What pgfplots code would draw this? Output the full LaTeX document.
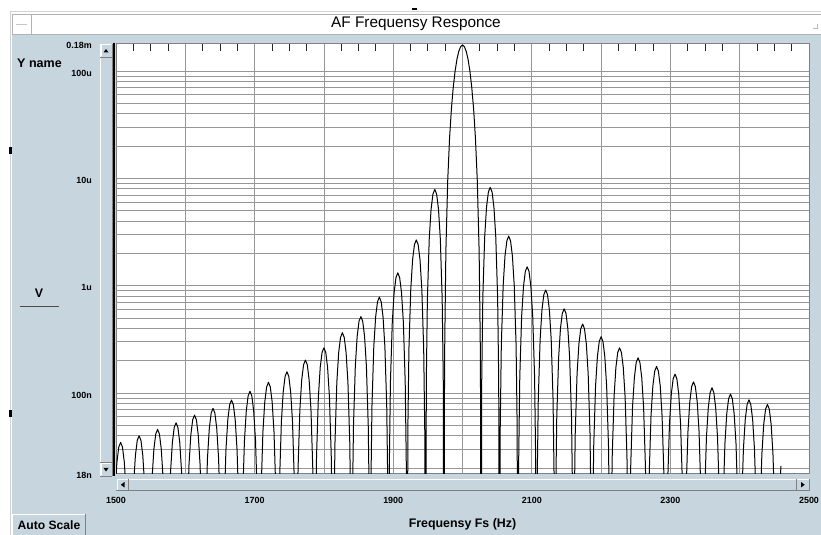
\documentclass[border=0pt]{standalone}
\usepackage{fontspec}
\setmainfont{Liberation Sans}
\usepackage{pgfplots}
\pgfplotsset{compat=1.18}
\definecolor{panel}{RGB}{199,213,222}
\definecolor{gridgray}{RGB}{150,150,150}
\definecolor{edge}{RGB}{128,128,128}
\newcommand{\lab}{\fontsize{6.7}{8}\selectfont\bfseries}
\newcommand{\biglab}{\fontsize{9.3}{11}\selectfont\bfseries}

\begin{document}
\begin{tikzpicture}
\path[use as bounding box] (0,0) rectangle (615.75pt,401.25pt);
% window frame, pixel coordinates from the top left
\begin{scope}[x=0.75pt,y=-0.75pt,shift={(0pt,401.25pt)}]
  \fill[white] (0,0) rectangle (821,535);
  \draw[gray!35] (10.5,11) -- (10.5,535);
  \draw[gray!35] (10.5,11.5) -- (821,11.5);
  \fill[panel] (12,35) rectangle (821,535);
  \draw[gray!60,fill=white] (12,14) rectangle (821,34);
  \draw[gray!60] (31.5,14) -- (31.5,34);
  \draw[gray!45] (16,24) -- (27,24);
  \draw[gray!55] (813,28) -- (817,28) -- (817,24);
  \node at (416,24) {\fontsize{11.5}{13}\selectfont AF Frequensy Responce};
  \fill[black] (412,8.5) rectangle (417,10.5);
  \fill[black] (9,147) rectangle (11.5,154);
  \fill[black] (9,410) rectangle (11.5,417);
\end{scope}

\begin{axis}[
  at={(87pt,46.5pt)}, anchor=south west,
  scale only axis, width=519.75pt, height=322pt,
  xmin=1500, xmax=2500,
  ymode=log, ymin=1.8e-8, ymax=1.8e-4,
  axis background/.style={fill=white},
  axis line style={draw=edge, line width=0.75pt},
  xtick={1500,1600,...,2500},
  xticklabels={1500,,1700,,1900,,2100,,2300,,2500},
  minor x tick num=3,
  xtick pos=right, xticklabel pos=left,
  ytick pos=left,
  yminorticks=false,
  ytick={1.8e-8,1e-7,1e-6,1e-5,1e-4,1.8e-4},
  yticklabels={18n,100n,1u,10u,100u,0.18m},
  extra y ticks={2e-8,3e-8,4e-8,5e-8,6e-8,7e-8,8e-8,9e-8,
    2e-7,3e-7,4e-7,5e-7,6e-7,7e-7,8e-7,9e-7,
    2e-6,3e-6,4e-6,5e-6,6e-6,7e-6,8e-6,9e-6,
    2e-5,3e-5,4e-5,5e-5,6e-5,7e-5,8e-5,9e-5},
  extra y tick labels={},
  extra y tick style={grid=major},
  grid=major,
  major grid style={draw=gridgray, line width=0.6pt},
  major tick length=0pt, minor tick length=5.25pt,
  tick align=inside,
  tick style={draw=black!85, line width=0.6pt},
  xticklabel style={font=\lab, anchor=center, inner sep=0pt, yshift=-20.25pt},
  yticklabel style={font=\lab, anchor=east, inner sep=0pt, xshift=-18pt, yshift=-1.5pt},
  xlabel={Frequensy Fs (Hz)},
  xlabel style={at={(axis description cs:0.5,0)}, anchor=center, yshift=-38.25pt, font=\biglab},
]
\addplot[black, line width=0.75pt, line join=round, mark=none] coordinates {
(1493.33,1e-12)(1494.40,5.45e-10)(1496.00,3.31e-9)(1498.67,1.20e-8)(1501.33,2.27e-8)(1504.00,3.14e-8)(1506.67,3.47e-8)(1509.33,3.14e-8)(1512.00,2.27e-8)(1514.67,1.20e-8)(1517.33,3.31e-9)(1518.93,5.45e-10)
(1520.00,1e-12)(1521.07,6.28e-10)(1522.67,3.82e-9)(1525.33,1.38e-8)(1528.00,2.62e-8)(1530.67,3.62e-8)(1533.33,4.00e-8)(1536.00,3.62e-8)(1538.67,2.62e-8)(1541.33,1.38e-8)(1544.00,3.82e-9)(1545.60,6.28e-10)
(1546.67,1e-12)(1547.74,7.21e-10)(1549.34,4.38e-9)(1552.00,1.59e-8)(1554.67,3.00e-8)(1557.34,4.15e-8)(1560.00,4.59e-8)(1562.67,4.15e-8)(1565.34,3.00e-8)(1568.00,1.59e-8)(1570.67,4.38e-9)(1572.27,7.21e-10)
(1573.33,1e-12)(1574.40,8.29e-10)(1576.00,5.04e-9)(1578.67,1.82e-8)(1581.33,3.46e-8)(1584.00,4.78e-8)(1586.67,5.28e-8)(1589.33,4.78e-8)(1592.00,3.46e-8)(1594.67,1.82e-8)(1597.33,5.04e-9)(1598.93,8.29e-10)
(1600.00,1e-12)(1601.07,9.78e-10)(1602.67,5.95e-9)(1605.33,2.15e-8)(1608.00,4.08e-8)(1610.67,5.64e-8)(1613.33,6.23e-8)(1616.00,5.64e-8)(1618.67,4.08e-8)(1621.33,2.15e-8)(1624.00,5.95e-9)(1625.60,9.78e-10)
(1626.67,1e-12)(1627.74,1.13e-9)(1629.34,6.88e-9)(1632.00,2.49e-8)(1634.67,4.71e-8)(1637.34,6.51e-8)(1640.00,7.20e-8)(1642.67,6.51e-8)(1645.34,4.71e-8)(1648.00,2.49e-8)(1650.67,6.88e-9)(1652.27,1.13e-9)
(1653.33,1e-12)(1654.40,1.35e-9)(1656.00,8.22e-9)(1658.67,2.97e-8)(1661.33,5.64e-8)(1664.00,7.79e-8)(1666.67,8.61e-8)(1669.33,7.79e-8)(1672.00,5.64e-8)(1674.67,2.97e-8)(1677.33,8.22e-9)(1678.93,1.35e-9)
(1680.00,1e-12)(1681.07,1.63e-9)(1682.67,9.93e-9)(1685.33,3.59e-8)(1688.00,6.81e-8)(1690.67,9.41e-8)(1693.33,1.04e-7)(1696.00,9.41e-8)(1698.67,6.81e-8)(1701.33,3.59e-8)(1704.00,9.93e-9)(1705.60,1.63e-9)
(1706.67,1e-12)(1707.74,1.98e-9)(1709.34,1.20e-8)(1712.00,4.35e-8)(1714.67,8.25e-8)(1717.34,1.14e-7)(1720.00,1.26e-7)(1722.67,1.14e-7)(1725.34,8.25e-8)(1728.00,4.35e-8)(1730.67,1.20e-8)(1732.27,1.98e-9)
(1733.33,1e-12)(1734.40,2.48e-9)(1736.00,1.51e-8)(1738.67,5.46e-8)(1741.33,1.03e-7)(1744.00,1.43e-7)(1746.67,1.58e-7)(1749.33,1.43e-7)(1752.00,1.03e-7)(1754.67,5.46e-8)(1757.33,1.51e-8)(1758.93,2.48e-9)
(1760.00,1e-12)(1761.07,3.19e-9)(1762.67,1.94e-8)(1765.33,7.01e-8)(1768.00,1.33e-7)(1770.67,1.84e-7)(1773.33,2.03e-7)(1776.00,1.84e-7)(1778.67,1.33e-7)(1781.33,7.01e-8)(1784.00,1.94e-8)(1785.60,3.19e-9)
(1786.67,1e-12)(1787.74,4.14e-9)(1789.34,2.52e-8)(1792.00,9.12e-8)(1794.67,1.73e-7)(1797.34,2.39e-7)(1800.00,2.64e-7)(1802.67,2.39e-7)(1805.34,1.73e-7)(1808.00,9.12e-8)(1810.67,2.52e-8)(1812.27,4.14e-9)
(1813.33,1e-12)(1814.40,5.73e-9)(1816.00,3.49e-8)(1818.67,1.26e-7)(1821.33,2.39e-7)(1824.00,3.30e-7)(1826.67,3.65e-7)(1829.33,3.30e-7)(1832.00,2.39e-7)(1834.67,1.26e-7)(1837.33,3.49e-8)(1838.93,5.73e-9)
(1840.00,1e-12)(1841.07,8.10e-9)(1842.67,4.93e-8)(1845.33,1.78e-7)(1848.00,3.38e-7)(1850.67,4.67e-7)(1853.33,5.16e-7)(1856.00,4.67e-7)(1858.67,3.38e-7)(1861.33,1.78e-7)(1864.00,4.93e-8)(1865.60,8.10e-9)
(1866.67,1e-12)(1867.74,1.23e-8)(1869.34,7.49e-8)(1872.00,2.71e-7)(1874.67,5.13e-7)(1877.34,7.09e-7)(1880.00,7.84e-7)(1882.67,7.09e-7)(1885.34,5.13e-7)(1888.00,2.71e-7)(1890.67,7.49e-8)(1892.27,1.23e-8)
(1893.33,1e-12)(1894.40,2.07e-8)(1896.00,1.26e-7)(1898.67,4.56e-7)(1901.33,8.64e-7)(1904.00,1.19e-6)(1906.67,1.32e-6)(1909.33,1.19e-6)(1912.00,8.64e-7)(1914.67,4.56e-7)(1917.33,1.26e-7)(1918.93,2.07e-8)
(1920.00,1e-12)(1921.07,4.19e-8)(1922.67,2.55e-7)(1925.33,9.22e-7)(1928.00,1.75e-6)(1930.67,2.42e-6)(1933.33,2.67e-6)(1936.00,2.42e-6)(1938.67,1.75e-6)(1941.33,9.22e-7)(1944.00,2.55e-7)(1945.60,4.19e-8)
(1946.67,1e-12)(1947.74,1.24e-7)(1949.34,7.54e-7)(1952.00,2.73e-6)(1954.67,5.17e-6)(1957.34,7.15e-6)(1960.00,7.90e-6)(1962.67,7.15e-6)(1965.34,5.17e-6)(1968.00,2.73e-6)(1970.67,7.54e-7)(1972.27,1.24e-7)
(1973.33,1e-12)(1973.87,7.28e-8)(1974.40,3.02e-7)(1976.00,2.09e-6)(1978.67,9.57e-6)(1981.33,2.37e-5)(1984.00,4.46e-5)(1986.67,7.09e-5)(1989.33,1.00e-4)(1992.00,1.29e-4)(1994.67,1.53e-4)(1997.33,1.69e-4)(2000.00,1.75e-4)
(2002.67,1.69e-4)(2005.33,1.53e-4)(2008.00,1.29e-4)(2010.67,1.00e-4)(2013.33,7.09e-5)(2016.00,4.46e-5)(2018.67,2.37e-5)(2021.33,9.57e-6)(2024.00,2.09e-6)(2025.60,3.02e-7)(2026.13,7.28e-8)
(2026.67,1e-12)(2027.74,1.30e-7)(2029.34,7.89e-7)(2032.00,2.85e-6)(2034.67,5.41e-6)(2037.34,7.47e-6)(2040.00,8.26e-6)(2042.67,7.47e-6)(2045.34,5.41e-6)(2048.00,2.85e-6)(2050.67,7.89e-7)(2052.27,1.30e-7)
(2053.33,1e-12)(2054.40,4.55e-8)(2056.00,2.77e-7)(2058.67,1.00e-6)(2061.33,1.90e-6)(2064.00,2.62e-6)(2066.67,2.90e-6)(2069.33,2.62e-6)(2072.00,1.90e-6)(2074.67,1.00e-6)(2077.33,2.77e-7)(2078.93,4.55e-8)
(2080.00,1e-12)(2081.07,2.36e-8)(2082.67,1.43e-7)(2085.33,5.18e-7)(2088.00,9.82e-7)(2090.67,1.36e-6)(2093.33,1.50e-6)(2096.00,1.36e-6)(2098.67,9.82e-7)(2101.33,5.18e-7)(2104.00,1.43e-7)(2105.60,2.36e-8)
(2106.67,1e-12)(2107.74,1.43e-8)(2109.34,8.71e-8)(2112.00,3.15e-7)(2114.67,5.97e-7)(2117.34,8.25e-7)(2120.00,9.12e-7)(2122.67,8.25e-7)(2125.34,5.97e-7)(2128.00,3.15e-7)(2130.67,8.71e-8)(2132.27,1.43e-8)
(2133.33,1e-12)(2134.40,9.58e-9)(2136.00,5.83e-8)(2138.67,2.11e-7)(2141.33,3.99e-7)(2144.00,5.52e-7)(2146.67,6.10e-7)(2149.33,5.52e-7)(2152.00,3.99e-7)(2154.67,2.11e-7)(2157.33,5.83e-8)(2158.93,9.58e-9)
(2160.00,1e-12)(2161.07,6.91e-9)(2162.67,4.20e-8)(2165.33,1.52e-7)(2168.00,2.88e-7)(2170.67,3.98e-7)(2173.33,4.40e-7)(2176.00,3.98e-7)(2178.67,2.88e-7)(2181.33,1.52e-7)(2184.00,4.20e-8)(2185.60,6.91e-9)
(2186.67,1e-12)(2187.74,5.26e-9)(2189.34,3.20e-8)(2192.00,1.16e-7)(2194.67,2.19e-7)(2197.34,3.03e-7)(2200.00,3.35e-7)(2202.67,3.03e-7)(2205.34,2.19e-7)(2208.00,1.16e-7)(2210.67,3.20e-8)(2212.27,5.26e-9)
(2213.33,1e-12)(2214.40,4.14e-9)(2216.00,2.52e-8)(2218.67,9.12e-8)(2221.33,1.73e-7)(2224.00,2.39e-7)(2226.67,2.64e-7)(2229.33,2.39e-7)(2232.00,1.73e-7)(2234.67,9.12e-8)(2237.33,2.52e-8)(2238.93,4.14e-9)
(2240.00,1e-12)(2241.07,3.34e-9)(2242.67,2.03e-8)(2245.33,7.36e-8)(2248.00,1.39e-7)(2250.67,1.93e-7)(2253.33,2.13e-7)(2256.00,1.93e-7)(2258.67,1.39e-7)(2261.33,7.36e-8)(2264.00,2.03e-8)(2265.60,3.34e-9)
(2266.67,1e-12)(2267.74,2.78e-9)(2269.34,1.69e-8)(2272.00,6.12e-8)(2274.67,1.16e-7)(2277.34,1.60e-7)(2280.00,1.77e-7)(2282.67,1.60e-7)(2285.34,1.16e-7)(2288.00,6.12e-8)(2290.67,1.69e-8)(2292.27,2.78e-9)
(2293.33,1e-12)(2294.40,2.36e-9)(2296.00,1.43e-8)(2298.67,5.18e-8)(2301.33,9.82e-8)(2304.00,1.36e-7)(2306.67,1.50e-7)(2309.33,1.36e-7)(2312.00,9.82e-8)(2314.67,5.18e-8)(2317.33,1.43e-8)(2318.93,2.36e-9)
(2320.00,1e-12)(2321.07,1.99e-9)(2322.67,1.21e-8)(2325.33,4.39e-8)(2328.00,8.31e-8)(2330.67,1.15e-7)(2333.33,1.27e-7)(2336.00,1.15e-7)(2338.67,8.31e-8)(2341.33,4.39e-8)(2344.00,1.21e-8)(2345.60,1.99e-9)
(2346.67,1e-12)(2347.74,1.76e-9)(2349.34,1.07e-8)(2352.00,3.87e-8)(2354.67,7.33e-8)(2357.34,1.01e-7)(2360.00,1.12e-7)(2362.67,1.01e-7)(2365.34,7.33e-8)(2368.00,3.87e-8)(2370.67,1.07e-8)(2372.27,1.76e-9)
(2373.33,1e-12)(2374.40,1.54e-9)(2376.00,9.35e-9)(2378.67,3.38e-8)(2381.33,6.41e-8)(2384.00,8.86e-8)(2386.67,9.79e-8)(2389.33,8.86e-8)(2392.00,6.41e-8)(2394.67,3.38e-8)(2397.33,9.35e-9)(2398.93,1.54e-9)
(2400.00,1e-12)(2401.07,1.36e-9)(2402.67,8.27e-9)(2405.33,2.99e-8)(2408.00,5.67e-8)(2410.67,7.83e-8)(2413.33,8.66e-8)(2416.00,7.83e-8)(2418.67,5.67e-8)(2421.33,2.99e-8)(2424.00,8.27e-9)(2425.60,1.36e-9)
(2426.67,1e-12)(2427.74,1.23e-9)(2429.34,7.49e-9)(2432.00,2.71e-8)(2434.67,5.13e-8)(2437.34,7.09e-8)(2440.00,7.84e-8)(2442.67,7.09e-8)(2445.34,5.13e-8)(2448.00,2.71e-8)(2450.67,7.49e-9)(2452.27,1.23e-9)
(2453.33,1e-12)(2454.40,1.1e-9)(2456.00,6.9e-9)(2459.50,2.1e-8)
};
\end{axis}

% scroll bars, labels and buttons on top
\begin{scope}[x=0.75pt,y=-0.75pt,shift={(0pt,401.25pt)}]
  \draw[black, line width=1.5pt] (114.2,43) -- (114.2,476.5);
  % vertical scroll bar
  \fill[panel] (100,43.6) rectangle (112.5,476.5);
  \draw[white] (100.5,44) -- (100.5,476);
  \draw[edge] (111.8,44) -- (111.8,476);
  \draw[white] (101,56.5) -- (101,44.5) -- (111,44.5);
  \draw[edge] (100,57) -- (112,57);
  \fill[black] (103.5,52.5) -- (108.5,52.5) -- (106,49) -- cycle;
  \draw[edge] (100,462.5) -- (112,462.5);
  \draw[white] (101,475) -- (101,463.5) -- (111,463.5);
  \draw[edge] (100,476) -- (112,476);
  \fill[black] (103.5,468) -- (108.5,468) -- (106,471.5) -- cycle;
  % horizontal scroll bar
  \fill[panel] (116,477) rectangle (810,491);
  \draw[white] (117,479.5) -- (809,479.5);
  \draw[white] (117.5,479.5) -- (117.5,490);
  \draw[edge] (116,490.5) -- (810,490.5);
  \draw[edge] (128.5,479) -- (128.5,490);
  \draw[edge] (796.5,479) -- (796.5,490);
  \draw[edge] (809.5,479) -- (809.5,491);
  \fill[black] (124.5,482) -- (124.5,487.5) -- (120.8,484.75) -- cycle;
  \fill[black] (801,482) -- (801,487.5) -- (804.7,484.75) -- cycle;
  % side labels
  \node[font=\fontsize{9.4}{11}\selectfont\bfseries] at (39.5,63) {Y name};
  \node[font=\biglab] at (39,293.5) {V};
  \draw[black!70, line width=0.75pt] (19.5,306.5) -- (58.5,306.5);
  % Auto Scale button
  \draw[white] (12.5,535) -- (12.5,514.5) -- (85,514.5);
  \draw[edge, line width=1pt] (85.5,514) -- (85.5,535);
  \node[font=\fontsize{9.1}{11}\selectfont\bfseries] at (49,525) {Auto Scale};
\end{scope}
\end{tikzpicture}
\end{document}
